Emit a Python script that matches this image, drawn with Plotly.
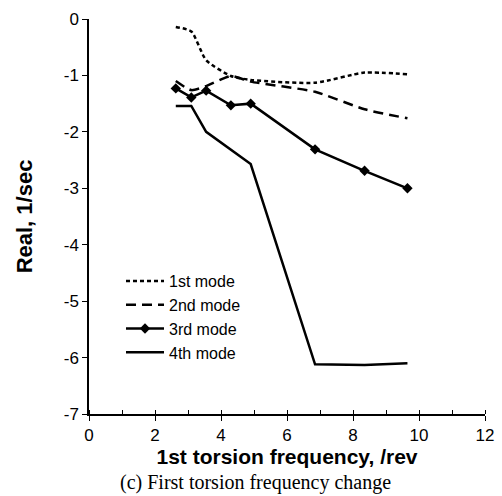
import plotly.graph_objects as go

freq = [2.63, 3.1, 3.55, 4.3, 4.9, 6.85, 8.35, 9.65]
mode1 = [-0.14, -0.22, -0.73, -1.01, -1.08, -1.13, -0.95, -0.98]
mode2 = [-1.10, -1.26, -1.19, -1.01, -1.11, -1.29, -1.60, -1.76]
mode3 = [-1.23, -1.39, -1.27, -1.53, -1.50, -2.31, -2.69, -3.00]
freq4 = [2.63, 3.1, 3.55, 4.9, 6.85, 8.35, 9.65]
mode4 = [-1.54, -1.54, -2.00, -2.57, -6.12, -6.13, -6.10]

labels = ["1st mode", "2nd mode", "3rd mode", "4th mode"]
xticks = [0, 2, 4, 6, 8, 10, 12]
yticks = [0, -1, -2, -3, -4, -5, -6, -7]
ytext = ["0", "-1", "-2", "-3", "-4", "-5", "-6", "-7"]

fig = go.Figure()
fig.add_trace(go.Scatter(x=freq, y=mode1, mode="lines", name=labels[0],
                         line=dict(color="black", width=2.5, dash="4px,3px", shape="spline", smoothing=0.6)))
fig.add_trace(go.Scatter(x=freq, y=mode2, mode="lines", name=labels[1],
                         line=dict(color="black", width=2.5, dash="10px,6px", shape="spline", smoothing=0.6)))
fig.add_trace(go.Scatter(x=freq, y=mode3, mode="lines+markers", name=labels[2],
                         line=dict(color="black", width=2.5),
                         marker=dict(symbol="diamond", size=8, color="black")))
fig.add_trace(go.Scatter(x=freq4, y=mode4, mode="lines", name=labels[3],
                         line=dict(color="black", width=2.5)))

L, R, T, B = 89, 17, 19, 82
pw, ph = 502 - L - R, 496 - T - B

fig.update_layout(
    width=502, height=496,
    margin=dict(l=L, r=R, t=T, b=B, autoexpand=False),
    paper_bgcolor="white", plot_bgcolor="white",
    font=dict(family="Liberation Sans, Arial", size=17, color="black"),
    showlegend=True,
    legend=dict(x=(121 - L) / pw, y=1 - (264 - T) / ph, xanchor="left", yanchor="top",
                bgcolor="rgba(0,0,0,0)", font=dict(size=16),
                tracegroupgap=0, itemwidth=38),
    xaxis=dict(range=[0, 12], tickvals=xticks, showgrid=False, zeroline=False,
               automargin=False,
               showline=True, linecolor="black", linewidth=1.5,
               ticks="outside", ticklen=5, tickcolor="black", tickwidth=1,
               tickfont=dict(size=17),
               minor=dict(dtick=1, ticks="inside", ticklen=4, tickcolor="black", tickwidth=1),
               title=dict(text="<b>1st torsion frequency, /rev</b>", font=dict(size=21), standoff=0)),
    yaxis=dict(range=[-7, 0], tickvals=yticks, ticktext=ytext, showgrid=False, zeroline=False,
               automargin=False,
               showline=True, linecolor="black", linewidth=1.5,
               ticks="outside", ticklen=5, tickcolor="black", tickwidth=1,
               tickfont=dict(size=17),
               title=dict(text="<b>Real, 1/sec</b>", font=dict(size=22), standoff=25)),
    annotations=[dict(text="(c) First torsion frequency change",
                      x=(255 - L) / pw, y=-(482 - (T + ph)) / ph,
                      xref="paper", yref="paper", showarrow=False,
                      xanchor="center", yanchor="middle",
                      font=dict(family="Liberation Serif, Times New Roman", size=20))]
)

fig.write_html("out.html", config={"displayModeBar": False},
               post_script="document.body.style.margin='0';document.body.style.overflow='hidden';")
